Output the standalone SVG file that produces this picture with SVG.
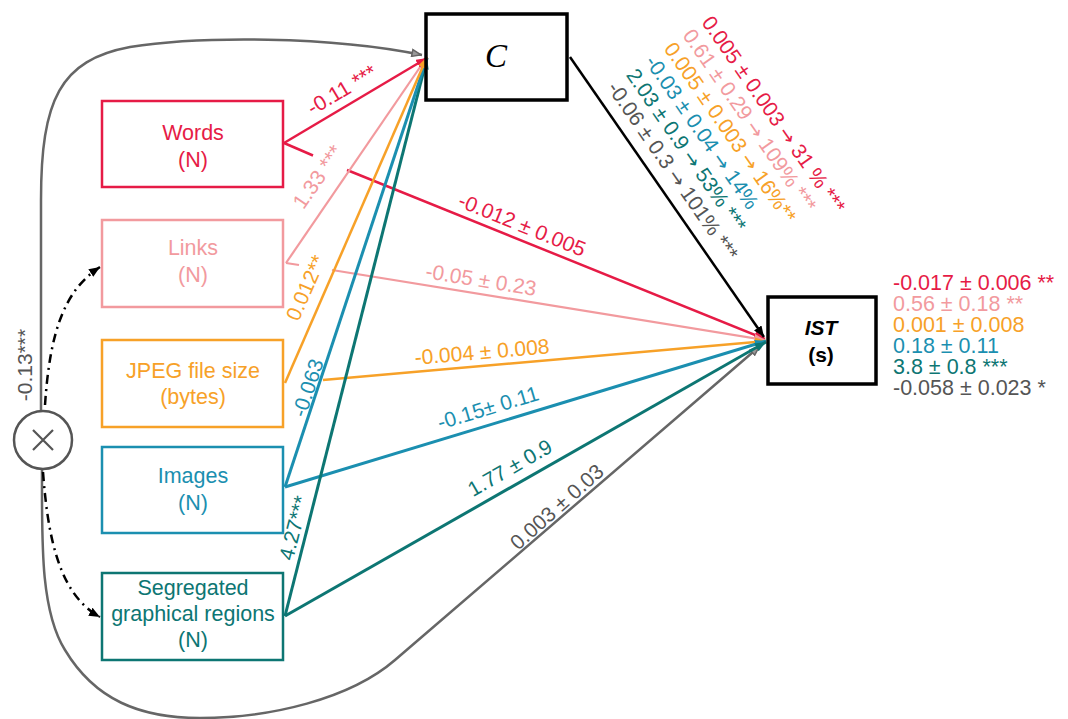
<svg xmlns="http://www.w3.org/2000/svg" width="1068" height="719" viewBox="0 0 1068 719">
<style>
text{font-family:"Liberation Sans",Arial,sans-serif;font-size:21px}
.nb{font-size:21.5px}
.box{fill:#fff;stroke-width:2.5}
.bl{fill:none;stroke:#000;stroke-width:3.5}
.red{fill:#E61B46}.pink{fill:#F29A9E}.orange{fill:#F7A128}.blue{fill:#1B8FB0}.teal{fill:#0D7673}.gray{fill:#555}
.mid{text-anchor:middle}
.ar{font-family:"DejaVu Sans",sans-serif;font-size:19px}
</style>
<defs>
<marker id="mr" markerUnits="userSpaceOnUse" markerWidth="11" markerHeight="9" refX="11" refY="4.5" orient="auto"><path d="M0,0L11,4.5L0,9z" fill="#E61B46"/></marker>
<marker id="mp" markerUnits="userSpaceOnUse" markerWidth="11" markerHeight="9" refX="11" refY="4.5" orient="auto"><path d="M0,0L11,4.5L0,9z" fill="#F29A9E"/></marker>
<marker id="mo" markerUnits="userSpaceOnUse" markerWidth="11" markerHeight="9" refX="11" refY="4.5" orient="auto"><path d="M0,0L11,4.5L0,9z" fill="#F7A128"/></marker>
<marker id="mb" markerUnits="userSpaceOnUse" markerWidth="11" markerHeight="9" refX="11" refY="4.5" orient="auto"><path d="M0,0L11,4.5L0,9z" fill="#1B8FB0"/></marker>
<marker id="mt" markerUnits="userSpaceOnUse" markerWidth="11" markerHeight="9" refX="11" refY="4.5" orient="auto"><path d="M0,0L11,4.5L0,9z" fill="#0D7673"/></marker>
<marker id="mg" markerUnits="userSpaceOnUse" markerWidth="11" markerHeight="9" refX="11" refY="4.5" orient="auto"><path d="M1,1L10,4.5L1,8z" fill="#999" stroke="#666" stroke-width="1.5"/></marker>
<marker id="mk" markerUnits="userSpaceOnUse" markerWidth="11" markerHeight="9" refX="11" refY="4.5" orient="auto"><path d="M0,0L11,4.5L0,9z" fill="#000"/></marker>
</defs>
<rect width="1068" height="719" fill="#fff"/>

<g id="connectors" fill="none">
<path d="M41,411 L41,200 C41,100 60,60 130,47 C200,36 330,36 422,55" stroke="#666" stroke-width="2.5" marker-end="url(#mg)"/>
<path d="M42,469 C42,540 40,610 65,650 C95,700 140,718 200,718 C270,718 350,699 395,660 L760,346" stroke="#666" stroke-width="2.5" marker-end="url(#mg)"/>
<path d="M45,405 C50,330 65,290 100,267" stroke="#000" stroke-width="2.5" stroke-dasharray="9 5 2 5" marker-end="url(#mk)"/>
<path d="M43,472 C48,540 60,595 100,617" stroke="#000" stroke-width="2.5" stroke-dasharray="9 5 2 5" marker-end="url(#mk)"/>
<line x1="284" y1="143" x2="313" y2="155.5" stroke="#E61B46" stroke-width="2.5"/>
<line x1="347" y1="170" x2="765" y2="339" stroke="#E61B46" stroke-width="2.5" marker-end="url(#mr)"/>
<line x1="286" y1="263" x2="299" y2="265" stroke="#F29A9E" stroke-width="2.2"/>
<line x1="332" y1="270" x2="765" y2="340" stroke="#F29A9E" stroke-width="2.2" marker-end="url(#mp)"/>
<line x1="323" y1="380" x2="766" y2="341" stroke="#F7A128" stroke-width="2.5" marker-end="url(#mo)"/>
<line x1="285" y1="487" x2="766" y2="341" stroke="#1B8FB0" stroke-width="3" marker-end="url(#mb)"/>
<line x1="285" y1="616" x2="766" y2="342" stroke="#0D7673" stroke-width="3" marker-end="url(#mt)"/>
<line x1="570" y1="57" x2="764" y2="337" stroke="#000" stroke-width="2.5" marker-end="url(#mk)"/>
<line x1="285" y1="616" x2="427" y2="58" stroke="#0D7673" stroke-width="3" marker-end="url(#mt)"/>
<line x1="285" y1="487" x2="427" y2="58" stroke="#1B8FB0" stroke-width="3" marker-end="url(#mb)"/>
<line x1="286" y1="263" x2="427" y2="57" stroke="#F29A9E" stroke-width="2.2" marker-end="url(#mp)"/>
<line x1="284" y1="143" x2="427" y2="58" stroke="#E61B46" stroke-width="2.5" marker-end="url(#mr)"/>
<line x1="285" y1="383" x2="427" y2="57" stroke="#F7A128" stroke-width="2.5" marker-end="url(#mo)"/>
</g>

<g id="edge-labels">
<text class="red mid" transform="translate(342,90) rotate(-30.7)" y="7">-0.11 ***</text>
<text class="pink mid" transform="translate(318,177) rotate(-55.5)" y="7">1.33 ***</text>
<text class="orange mid" transform="translate(306,288) rotate(-66.3)" y="7">0.012**</text>
<text class="blue mid" transform="translate(308,388) rotate(-71.6)" y="7">-0.063</text>
<text class="teal mid" transform="translate(294,528) rotate(-75.6)" y="7">4.27***</text>
<text class="red mid" transform="translate(522,225) rotate(22.1)" y="7">-0.012 ± 0.005</text>
<text class="pink mid" transform="translate(481,280) rotate(9.2)" y="7">-0.05 ± 0.23</text>
<text class="orange mid" transform="translate(482,352) rotate(-4.9)" y="7">-0.004 ± 0.008</text>
<text class="blue mid" transform="translate(488,408) rotate(-16.8)" y="7">-0.15± 0.11</text>
<text class="teal mid" transform="translate(510,468) rotate(-29.8)" y="7">1.77 ± 0.9</text>
<text class="gray mid" transform="translate(557,507) rotate(-41.7)" y="7">0.003 ± 0.03</text>
<text class="gray mid" transform="translate(25,365) rotate(-90)" y="7">-0.13***</text>
<g transform="translate(701,22.4) rotate(55.2)">
<text class="red" y="0">0.005 ± 0.003 <tspan class="ar">→</tspan> 31 % ***</text>
<text class="pink" y="23">0.61 ± 0.29 <tspan class="ar">→</tspan> 109% ***</text>
<text class="orange" y="46">0.005 ± 0.003 <tspan class="ar">→</tspan> 16%**</text>
<text class="blue" y="69">-0.03 ± 0.04 <tspan class="ar">→</tspan> 14%</text>
<text class="teal" y="92">2.03 ± 0.9 <tspan class="ar">→</tspan> 53% ***</text>
<text class="gray" y="115">-0.06 ± 0.3 <tspan class="ar">→</tspan> 101% ***</text>
</g>
</g>

<g id="interaction">
<circle cx="43" cy="440" r="29" fill="#fff" stroke="#555" stroke-width="2.5"/>
<path d="M33,430L53,450M53,430L33,450" stroke="#555" stroke-width="2.2"/>
</g>

<g id="words">
<rect class="box" x="102" y="101" width="181" height="86" stroke="#E61B46"/>
<text class="red mid nb" x="193" y="140">Words</text>
<text class="red mid nb" x="193" y="167">(N)</text>
</g>
<g id="links">
<rect class="box" x="102" y="220" width="181" height="87" stroke="#F29A9E"/>
<text class="pink mid nb" x="193" y="255">Links</text>
<text class="pink mid nb" x="193" y="282">(N)</text>
</g>
<g id="jpeg">
<rect class="box" x="102" y="340" width="181" height="87" stroke="#F7A128"/>
<text class="orange mid nb" x="193" y="378">JPEG file size</text>
<text class="orange mid nb" x="193" y="404">(bytes)</text>
</g>
<g id="images">
<rect class="box" x="102" y="447" width="181" height="86" stroke="#1B8FB0"/>
<text class="blue mid nb" x="193" y="483">Images</text>
<text class="blue mid nb" x="193" y="510">(N)</text>
</g>
<g id="segregated">
<rect class="box" x="102" y="573" width="181" height="87" stroke="#0D7673"/>
<text class="teal mid nb" x="193" y="595">Segregated</text>
<text class="teal mid nb" x="193" y="621">graphical regions</text>
<text class="teal mid nb" x="193" y="647">(N)</text>
</g>
<g id="C">
<rect class="bl" x="426" y="14" width="141" height="86" fill="#fff"/>
<text x="496" y="67" text-anchor="middle" style="font-family:'Liberation Serif','Times New Roman',serif;font-style:italic;font-size:33px">C</text>
</g>
<g id="IST">
<rect class="bl" x="768" y="297" width="108" height="87" fill="#fff"/>
<text x="821" y="335" text-anchor="middle" style="font-weight:bold;font-style:italic">IST</text>
<text x="821" y="362" text-anchor="middle" style="font-weight:bold">(s)</text>
</g>
<g id="IST-coefficients">
<text class="red nb" x="893" y="290">-0.017 ± 0.006 **</text>
<text class="pink nb" x="893" y="311">0.56 ± 0.18 **</text>
<text class="orange nb" x="893" y="332">0.001 ± 0.008</text>
<text class="blue nb" x="893" y="353">0.18 ± 0.11</text>
<text class="teal nb" x="893" y="374">3.8 ± 0.8 ***</text>
<text class="gray nb" x="893" y="395">-0.058 ± 0.023 *</text>
</g>
</svg>
